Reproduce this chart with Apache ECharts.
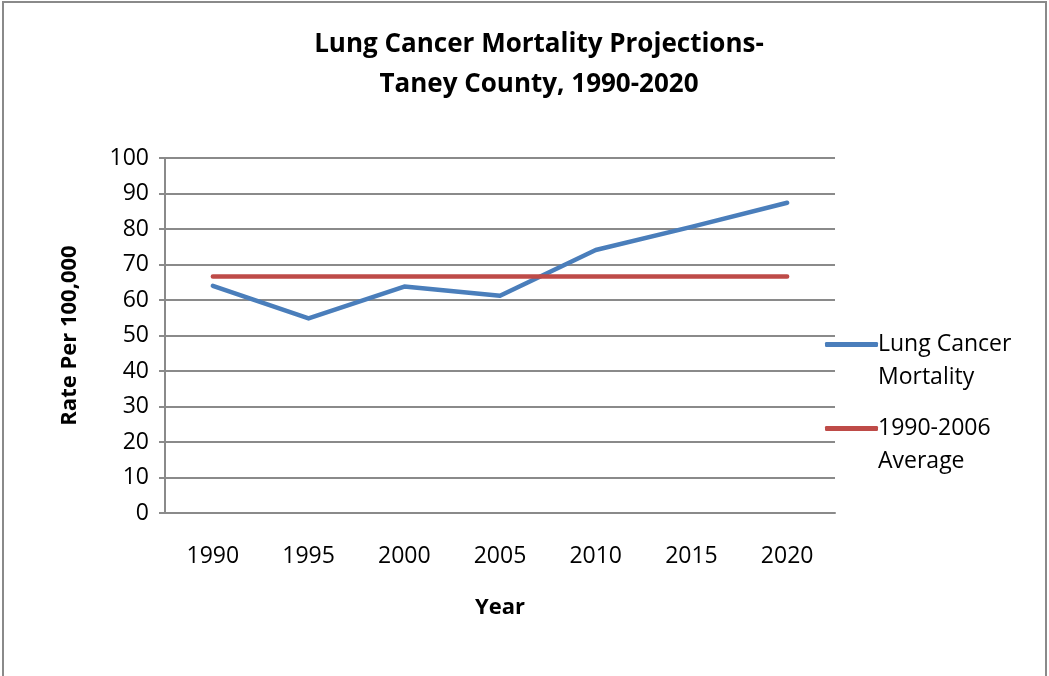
<!DOCTYPE html>
<html>
<head>
<meta charset="utf-8">
<script src="https://cdn.jsdelivr.net/npm/echarts@6/dist/echarts.min.js"></script>
<style>
  html, body { margin: 0; padding: 0; background: #ffffff; }
  #chart { width: 1049px; height: 676px; }
</style>
</head>
<body>
<div id="chart"></div>
<script>
// data
const years = ["1990", "1995", "2000", "2005", "2010", "2015", "2020"];
const mortality = [64.0, 54.8, 63.8, 61.2, 74.1, 80.6, 87.4];
const average = [66.6, 66.6, 66.6, 66.6, 66.6, 66.6, 66.6];
const seriesNames = ["Lung Cancer Mortality", "1990-2006 Average"];
// leading empty line keeps the legend line level with the first text line
const legendLabels = {
  "Lung Cancer Mortality": " \nLung Cancer\nMortality",
  "1990-2006 Average": " \n1990-2006\nAverage",
};

const font = "'Open Sans', 'DejaVu Sans', sans-serif";
const chart = echarts.init(document.getElementById("chart"));

const option = {
  animation: false,
  backgroundColor: "#ffffff",
  textStyle: { fontFamily: font },
  title: {
    text: "Lung Cancer Mortality Projections-\nTaney County, 1990-2020",
    left: 534,
    top: 20,
    textAlign: "center",
    textStyle: {
      fontFamily: font,
      fontSize: 26,
      fontWeight: "bold",
      color: "#000",
      lineHeight: 40,
    },
  },
  graphic: [
    {
      type: "rect",
      shape: { x: 3, y: 2, width: 1043, height: 720 },
      style: { fill: "none", stroke: "#8a8a8a", lineWidth: 2 },
    },
  ],
  legend: {
    orient: "vertical",
    left: 820,
    top: 290,
    itemGap: -15,
    itemWidth: 53,
    itemHeight: 5,
    icon: "roundRect",
    data: seriesNames,
    formatter: (name) => legendLabels[name],
    textStyle: {
      fontFamily: font,
      fontSize: 23,
      color: "#000",
      lineHeight: 33,
      padding: [0, 0, 0, -5],
    },
  },
  grid: { left: 165, right: 214, top: 158, bottom: 163 },
  xAxis: {
    type: "category",
    data: years,
    boundaryGap: true,
    name: "Year",
    nameLocation: "middle",
    nameGap: 84,
    nameTextStyle: { fontFamily: font, fontSize: 22, fontWeight: "bold", color: "#000" },
    axisLine: { lineStyle: { color: "#8a8a8a", width: 2 } },
    axisTick: { show: false },
    axisLabel: { fontFamily: font, fontSize: 23, color: "#000", margin: 32 },
  },
  yAxis: {
    type: "value",
    min: 0,
    max: 100,
    interval: 10,
    name: "Rate Per 100,000",
    nameLocation: "middle",
    nameGap: 84,
    nameRotate: 90,
    nameTextStyle: { fontFamily: font, fontSize: 22, fontWeight: "bold", color: "#000" },
    axisLine: { show: true, lineStyle: { color: "#8a8a8a", width: 2 } },
    axisTick: { show: true, length: 6, lineStyle: { color: "#8a8a8a", width: 2 } },
    axisLabel: { fontFamily: font, fontSize: 23, color: "#000", margin: 16 },
    splitLine: { show: true, lineStyle: { color: "#8a8a8a", width: 2 } },
  },
  series: [
    {
      name: seriesNames[0],
      type: "line",
      data: mortality,
      symbol: "none",
      color: "#4a7ebb",
      lineStyle: { width: 4.5, color: "#4a7ebb", cap: "round", join: "round" },
    },
    {
      name: seriesNames[1],
      type: "line",
      data: average,
      symbol: "none",
      color: "#be4b48",
      lineStyle: { width: 4.5, color: "#be4b48", cap: "round" },
    },
  ],
};

chart.setOption(option);
</script>
</body>
</html>
